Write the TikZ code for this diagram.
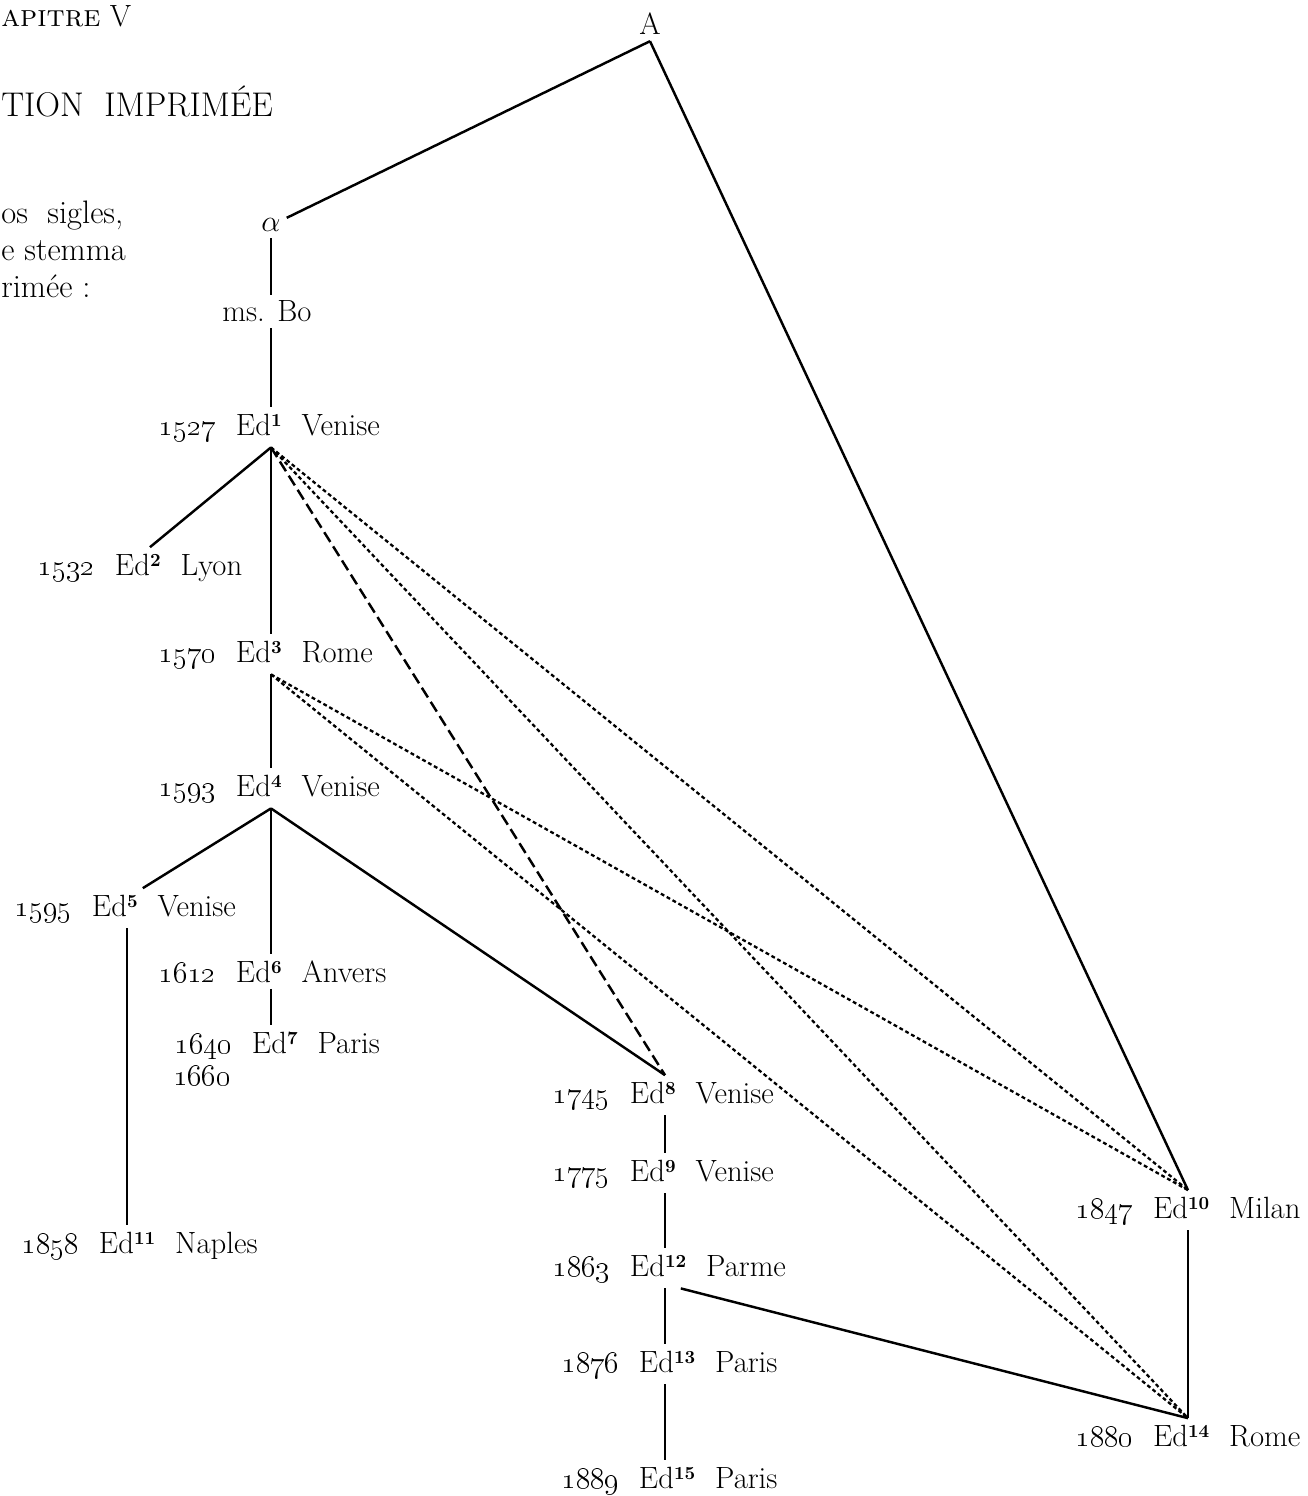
\documentclass[tikz,border=0pt]{standalone}
\usepackage{tikz}
\usetikzlibrary{positioning}

\newcommand{\edtext}[3]{\llap{\oldstylenums{#1}\hspace{0.65em}Ed}\rlap{\raisebox{5pt}{\fontsize{10.5}{12}\selectfont\bfseries #2}\hspace{0.65em}#3}}

\begin{document}
\begin{tikzpicture}[x=0.02cm,y=-0.02cm,
  every node/.style={font=\fontsize{17.5}{21}\selectfont},
  ed/.style={anchor=base,inner xsep=0.4pt,inner ysep=3.5pt},
  txt/.style={anchor=base west,inner sep=0pt},
  stem/.style={line width=1.4pt},
  lost/.style={line width=1.3pt,dash pattern=on 2.2pt off 1.6pt},
  guess/.style={line width=1.4pt,dash pattern=on 6.5pt off 3pt}]
\useasboundingbox (0,0) rectangle (1307,1496);

% bits of the page
\node[txt] (chap) at (1,27) {\textsc{apitre} V};
\node[txt,font=\fontsize{19.5}{23}\selectfont] (title) at (1,117) {TION\hspace{0.6em}IMPRIMÉE};
\node[txt,font=\fontsize{18.5}{22}\selectfont] (para1) at (1,224) {os\hspace{0.6em}sigles,};
\node[txt,font=\fontsize{18.5}{22}\selectfont] (para2) at (1,261) {e stemma};
\node[txt,font=\fontsize{18.5}{22}\selectfont] (para3) at (1,298) {rimée :};

% manuscripts
\node[anchor=base] (A) at (650,35) {A};
\node[anchor=base] (alpha) at (271,232) {$\alpha$};
\node[anchor=base] (msbo) at (267,322) {ms. Bo};

% editions
\node[ed] (ed1) at (271,435) {\edtext{1527}{1}{Venise}};
\node[ed] (ed2) at (150,575) {\edtext{1532}{2}{Lyon}};
\node[ed] (ed3) at (271,662) {\edtext{1570}{3}{Rome}};
\node[ed] (ed4) at (271,796) {\edtext{1593}{4}{Venise}};
\node[ed] (ed5) at (127,916) {\edtext{1595}{5}{Venise}};
\node[ed] (ed6) at (271,982) {\edtext{1612}{6}{Anvers}};
\node[ed] (ed7) at (287,1053) {\edtext{1640}{7}{Paris}};
\node[txt] (ed7b) at (173,1085) {\oldstylenums{1660}};
\node[ed] (ed8) at (665,1103) {\edtext{1745}{8}{Venise}};
\node[ed] (ed9) at (665,1181) {\edtext{1775}{9}{Venise}};
\node[ed] (ed10) at (1188,1218) {\edtext{1847}{10}{Milan}};
\node[ed] (ed11) at (134,1253) {\edtext{1858}{11}{Naples}};
\node[ed] (ed12) at (665,1276) {\edtext{1863}{12}{Parme}};
\node[ed] (ed13) at (674,1372) {\edtext{1876}{13}{Paris}};
\node[ed] (ed14) at (1188,1446) {\edtext{1880}{14}{Rome}};
\node[ed] (ed15) at (674,1488) {\edtext{1889}{15}{Paris}};

% filiation
\draw[stem] (A.south) -- (alpha);
\draw[stem] (A.south) -- (ed10.north);
\draw[stem] (alpha) -- (alpha |- msbo.north);
\draw[stem] (alpha |- msbo.south) -- (ed1.north);
\draw[stem] (ed1.south) -- (ed2.north);
\draw[stem] (ed1.south) -- (ed3.north);
\draw[stem] (ed3.south) -- (ed4.north);
\draw[stem] (ed4.south) -- ([xshift=9pt]ed5.north);
\draw[stem] (ed4.south) -- (ed6.north);
\draw[stem] (ed4.south) -- (ed8.north);
\draw[stem] (ed6.south) -- (ed6 |- ed7.north);
\draw[stem] (ed5.south) -- (ed5 |- ed11.north);
\draw[stem] (ed8.south) -- (ed9.north);
\draw[stem] (ed9.south) -- (ed12.north);
\draw[stem] (ed12.south) -- (ed12 |- ed13.north);
\draw[stem] (ed12 |- ed13.south) -- (ed12 |- ed15.north);
\draw[stem] ([xshift=9pt]ed12.south) -- (ed14.north);
\draw[stem] (ed10.south) -- (ed14.north);

% contaminations
\draw[guess] (ed1.south) -- (ed8.north);
\draw[lost] (ed1.south) -- (ed10.north);
\draw[lost] (ed1.south) -- (ed14.north);
\draw[lost] (ed3.south) -- (ed10.north);
\draw[lost] (ed3.south) -- (ed14.north);

\end{tikzpicture}
\end{document}
